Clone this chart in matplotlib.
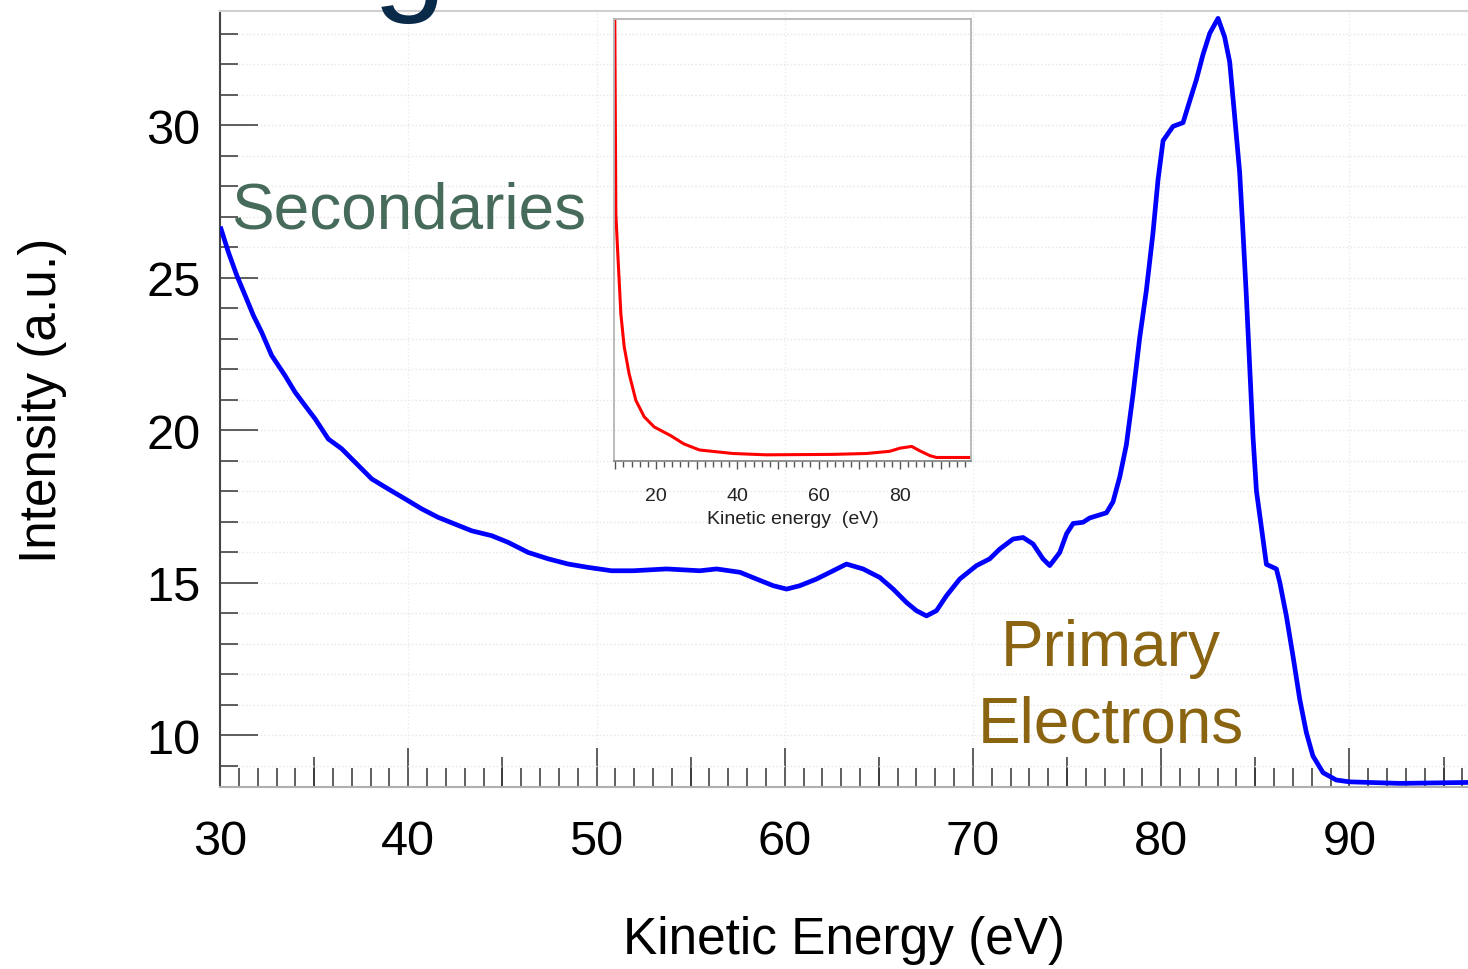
#!/usr/bin/env python3

# imports
import matplotlib
matplotlib.use("Agg")
import matplotlib.pyplot as plt
from matplotlib.ticker import MultipleLocator, FuncFormatter

plt.rcParams['font.family'] = ['Liberation Sans', 'DejaVu Sans']

# main spectrum (blue)
energy = [30.05, 30.44, 30.89, 31.33, 31.77, 32.21, 32.74, 33.45, 33.98, 34.51,
          35.05, 35.75, 36.46, 37.17, 38.06, 38.94, 39.82, 40.71, 41.59, 42.48,
          43.37, 44.43, 45.31, 46.37, 47.44, 48.5, 49.56, 50.8, 51.95, 53.72,
          55.49, 56.38, 57.62, 58.5, 59.39, 60.1, 60.8, 61.69, 62.57, 63.28,
          64.16, 65.05, 65.76, 66.47, 67.0, 67.53, 68.06, 68.59, 69.3, 70.19,
          70.89, 71.42, 72.13, 72.66, 73.19, 73.72, 74.08, 74.61, 74.97, 75.32,
          75.85, 76.2, 77.09, 77.44, 77.8, 78.15, 78.5, 78.86, 79.21, 79.56,
          79.83, 80.1, 80.63, 81.16, 81.51, 81.87, 82.22, 82.58, 83.02, 83.37,
          83.64, 83.9, 84.17, 84.34, 84.52, 84.7, 84.88, 85.06, 85.32, 85.59,
          86.12, 86.3, 86.65, 87.0, 87.36, 87.71, 88.06, 88.6, 89.3, 90.0,
          92.67, 96.3]
intensity = [26.6, 25.84, 25.07, 24.42, 23.76, 23.21, 22.45, 21.79, 21.25, 20.81,
             20.37, 19.71, 19.39, 18.95, 18.40, 18.07, 17.75, 17.42, 17.14, 16.92,
             16.70, 16.54, 16.32, 15.99, 15.78, 15.61, 15.50, 15.39, 15.39, 15.45,
             15.39, 15.45, 15.34, 15.12, 14.90, 14.79, 14.90, 15.12, 15.39, 15.61,
             15.45, 15.17, 14.79, 14.35, 14.08, 13.91, 14.08, 14.57, 15.12, 15.56,
             15.78, 16.10, 16.43, 16.48, 16.27, 15.78, 15.56, 15.99, 16.6, 16.94,
             16.98, 17.12, 17.29, 17.65, 18.47, 19.52, 21.16, 23.04, 24.57, 26.44,
             28.2, 29.49, 29.96, 30.08, 30.78, 31.49, 32.31, 33.01, 33.5, 32.89,
             32.07, 30.31, 28.44, 26.56, 24.45, 22.11, 19.76, 18.01, 16.83, 15.6,
             15.45, 15.01, 13.91, 12.6, 11.18, 10.09, 9.32, 8.77, 8.53, 8.47,
             8.42, 8.45]

# inset spectrum (red), full range, arbitrary units
inset_energy = [9.8, 9.89, 10.14, 10.53, 10.95, 11.37, 12.18, 13.41, 15.07, 17.11,
                19.58, 23.7, 26.8, 30.68, 38.9, 47.1, 63.5, 71.8, 77.5, 80.0,
                82.9, 84.9, 87.4, 89.0, 96.4, 97.5]
inset_counts = [110, 99, 56, 48.5, 40.9, 33.3, 25.9, 19.7, 13.7, 10.0,
                7.7, 5.7, 3.9, 2.5, 1.7, 1.4, 1.5, 1.7, 2.2, 2.9,
                3.3, 2.3, 1.2, 0.8, 0.8, 0.8]

inset_ticks = [20, 40, 60, 80]

fig = plt.figure(figsize=(14.68, 9.70), dpi=100)
ax = fig.add_axes([0.1499, 0.1876, 0.8501, 0.8])

ax.plot(energy, intensity, color='#0000ff', lw=3.4, zorder=3)
ax.set_xlim(30, 96.3)
ax.set_ylim(8.3, 33.74)

# ticks: inward, three lengths on x
ax.xaxis.set_major_locator(MultipleLocator(10))
ax.xaxis.set_minor_locator(MultipleLocator(1))
ax.yaxis.set_major_locator(MultipleLocator(5))
ax.yaxis.set_minor_locator(MultipleLocator(1))
ax.tick_params(axis='x', which='major', direction='in', length=28, width=1.1,
               color='#333333', labelsize=35, pad=23)
ax.tick_params(axis='x', which='minor', direction='in', length=14, width=1.1,
               color='#333333')
ax.tick_params(axis='y', which='major', direction='in', length=27, width=1.1,
               color='#333333', labelsize=35, pad=14)
ax.tick_params(axis='y', which='minor', direction='in', length=13, width=1.1,
               color='#333333')
sec = ax.secondary_xaxis('bottom')
sec.set_xticks([35, 45, 55, 65, 75, 85, 95])
sec.tick_params(direction='in', length=21.5, width=1.1, color='#333333',
                labelbottom=False)
sec.spines['bottom'].set_visible(False)

ax.grid(True, which='both', axis='y', color='#e6e6e6', ls=':', lw=1.0)
ax.grid(True, which='major', axis='x', color='#ebebeb', ls=':', lw=1.0)

ax.spines['right'].set_visible(False)
ax.spines['top'].set_color('#cfcfcf')
ax.spines['top'].set_linewidth(1.5)
ax.spines['left'].set_color('#444444')
ax.spines['left'].set_linewidth(1.5)
ax.spines['bottom'].set_color('#b0b0b0')
ax.spines['bottom'].set_linewidth(1.5)

ax.set_xlabel('Kinetic Energy (eV)', fontsize=37)
ax.set_ylabel('Intensity (a.u.)', fontsize=37)
ax.xaxis.label.set_va('center')
ax.yaxis.label.set_va('center')
ax.xaxis.set_label_coords(0.5, -0.196)
ax.yaxis.set_label_coords(-0.1426, 0.5)

ax.text(30.6, 26.64, 'Secondaries', fontsize=46, color='#476b5a',
        ha='left', va='baseline')
ax.text(77.32, 12.30, 'Primary', fontsize=46, color='#8a6410',
        ha='center', va='baseline')
ax.text(77.32, 9.80, 'Electrons', fontsize=46, color='#8a6410',
        ha='center', va='baseline')

# fragment of the slide title peeking in at the top
fig.text(0.279, 1.003, 'g', fontsize=95, color='#0a2a4a',
         ha='center', va='baseline')

# inset: whole spectrum
ins = fig.add_axes([0.4183, 0.5237, 0.2432, 0.4557])
ins.patch.set_alpha(0)
ins.plot(inset_energy, inset_counts, color='#ff0000', lw=2.2)
ins.set_xlim(9.7, 97.5)
ins.set_ylim(0, 100)
ins.set_yticks([])
ins.xaxis.set_major_locator(MultipleLocator(10))
ins.xaxis.set_minor_locator(MultipleLocator(2))
ins.xaxis.set_major_formatter(FuncFormatter(
    lambda v, p: '%d' % v if int(round(v)) in inset_ticks else ''))
ins.tick_params(axis='x', which='major', direction='out', length=6, width=1.0,
                color='#555555', labelsize=14, labelcolor='#222222', pad=13)
ins.tick_params(axis='x', which='minor', direction='out', length=4, width=1.0,
                color='#555555')
for s in ins.spines.values():
    s.set_color('#b5b5b5')
    s.set_linewidth(1.3)
ins.spines['bottom'].set_color('#888888')
ins.set_xlabel('Kinetic energy  (eV)', fontsize=14, color='#222222')
ins.xaxis.label.set_va('center')
ins.xaxis.set_label_coords(0.5, -0.129)

fig.savefig('out.png', dpi=100)
plt.close()
